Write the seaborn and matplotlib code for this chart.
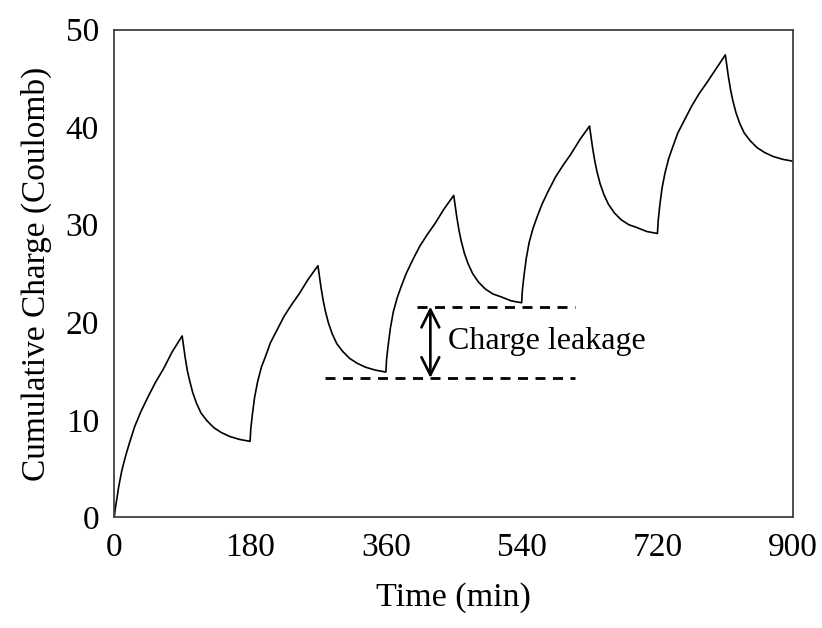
import matplotlib
matplotlib.use("Agg")
import matplotlib.pyplot as plt
import seaborn as sns
import pandas as pd

# ---- data ----
time_min = [
    0, 1, 3, 6, 10, 15, 20, 27, 35, 45, 55, 65, 77, 90,
    92, 94, 97, 100, 104, 109, 115, 123, 132, 142, 153, 166, 180,
    181, 183, 186, 190, 195, 200, 207, 215, 225, 235, 245, 257, 270,
    272, 274, 277, 280, 284, 289, 295, 303, 312, 322, 333, 346, 360,
    361, 363, 366, 370, 375, 380, 387, 395, 405, 415, 425, 437, 450,
    452, 454, 457, 460, 464, 469, 475, 483, 492, 502, 513, 526, 540,
    541, 543, 546, 550, 555, 560, 567, 575, 585, 595, 605, 617, 630,
    632, 634, 637, 640, 644, 649, 655, 663, 672, 682, 693, 706, 720,
    721, 723, 726, 730, 735, 740, 747, 755, 765, 775, 785, 797, 810,
    812, 814, 817, 820, 824, 829, 835, 843, 852, 862, 873, 886, 900,
]
charge_C = [
    0, 0.7, 1.7, 3.2, 4.8, 6.3, 7.6, 9.3, 10.8, 12.4, 13.9, 15.2, 17.0, 18.6,
    17.5, 16.4, 15.0, 14.0, 12.8, 11.7, 10.7, 9.9, 9.2, 8.7, 8.3, 8.0, 7.8,
    9.1, 10.5, 12.3, 13.9, 15.4, 16.4, 17.9, 19.1, 20.6, 21.8, 22.9, 24.4, 25.8,
    24.7, 23.6, 22.2, 21.1, 19.9, 18.8, 17.8, 17.0, 16.3, 15.8, 15.4, 15.1, 14.9,
    16.2, 17.6, 19.4, 21.1, 22.5, 23.6, 25.0, 26.3, 27.8, 29.0, 30.1, 31.6, 33.0,
    31.9, 30.8, 29.4, 28.3, 27.1, 26.0, 25.0, 24.1, 23.4, 22.9, 22.6, 22.2, 22.0,
    23.3, 24.7, 26.5, 28.2, 29.6, 30.7, 32.1, 33.4, 34.9, 36.1, 37.2, 38.7, 40.1,
    39.0, 37.9, 36.5, 35.4, 34.2, 33.1, 32.1, 31.2, 30.5, 30.0, 29.7, 29.3, 29.1,
    30.4, 31.9, 33.7, 35.3, 36.8, 37.9, 39.4, 40.6, 42.1, 43.4, 44.5, 45.9, 47.4,
    46.3, 45.2, 43.8, 42.7, 41.5, 40.4, 39.4, 38.6, 37.9, 37.4, 37.0, 36.7, 36.5,
]
x_ticks = [0, 180, 360, 540, 720, 900]
y_ticks = [0, 10, 20, 30, 40, 50]

# annotation (charge leakage) levels
leak_upper_y = 21.6
leak_lower_y = 14.3
leak_upper_x = [401, 611]
leak_lower_x = [279, 611]
leak_arrow_x = 419
leak_text = "Charge leakage"

df = pd.DataFrame({"Time": time_min, "Charge": charge_C})

sns.set_theme(style="white")
plt.rcParams["font.family"] = ["Liberation Serif", "DejaVu Serif"]

fig = plt.figure(figsize=(8.22, 6.28), dpi=100)
ax = fig.add_axes([0.139, 0.176, 0.826, 0.777])

sns.lineplot(data=df, x="Time", y="Charge", ax=ax, color="black",
             linewidth=1.2, sort=False, estimator=None)

# dashed reference lines
ax.plot(leak_upper_x, [leak_upper_y] * 2, color="black", linewidth=2.0,
        dashes=(3.6, 2.7))
ax.plot(leak_lower_x, [leak_lower_y] * 2, color="black", linewidth=2.0,
        dashes=(3.6, 2.7))
ax.annotate("", xy=(leak_arrow_x, leak_upper_y), xytext=(leak_arrow_x, leak_lower_y),
            arrowprops=dict(arrowstyle="<->", color="black", lw=1.9,
                            shrinkA=0, shrinkB=0, mutation_scale=32))
ax.text(leak_arrow_x + 23, (leak_upper_y + leak_lower_y) / 2 + 0.1, leak_text,
        fontsize=23, va="center", ha="left", color="black")

ax.set_xlim(0, 900)
ax.set_ylim(0, 50)
ax.set_xticks(x_ticks)
ax.set_yticks(y_ticks)
ax.set_xticklabels([str(v) for v in x_ticks])
ax.set_yticklabels([str(v) for v in y_ticks])
ax.tick_params(direction="in", length=6, width=1, colors="#404040",
               labelcolor="black", labelsize=24, pad=11)
ax.set_xlabel("Time (min)", fontsize=24.5, labelpad=14, color="black")
ax.set_ylabel("Cumulative Charge (Coulomb)", fontsize=24, labelpad=10, color="black")
for sp in ax.spines.values():
    sp.set_visible(True)
    sp.set_color("#404040")
    sp.set_linewidth(1.3)

fig.savefig("out.png", dpi=100)
